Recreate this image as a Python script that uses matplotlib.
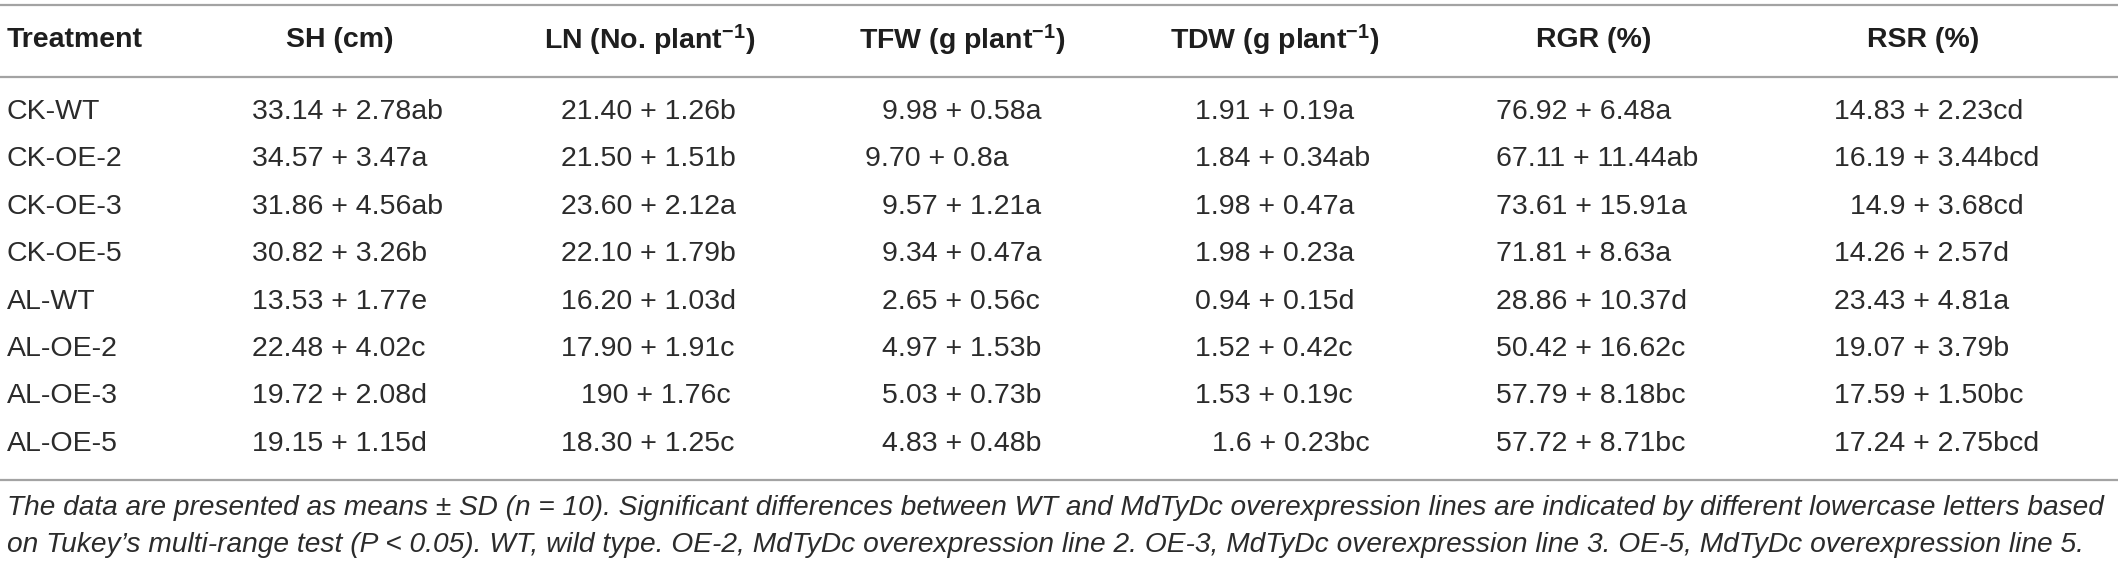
import matplotlib
matplotlib.use("Agg")
import matplotlib.pyplot as plt

plt.rcParams['font.family'] = ['Liberation Sans', 'DejaVu Sans']
plt.rcParams['mathtext.fontset'] = 'custom'
plt.rcParams['mathtext.rm'] = 'Liberation Sans'
plt.rcParams['mathtext.bf'] = 'Liberation Sans:bold'
plt.rcParams['mathtext.it'] = 'Liberation Sans:italic'

# ---- table content ----
treatments = ["CK-WT", "CK-OE-2", "CK-OE-3", "CK-OE-5",
              "AL-WT", "AL-OE-2", "AL-OE-3", "AL-OE-5"]

headers = ["Treatment", "SH (cm)", r"LN (No. plant$^{\mathbf{-1}}$)",
           r"TFW (g plant$^{\mathbf{-1}}$)", r"TDW (g plant$^{\mathbf{-1}}$)",
           "RGR (%)", "RSR (%)"]

sh_mean = ["33.14", "34.57", "31.86", "30.82", "13.53", "22.48", "19.72", "19.15"]
sh_sd = ["2.78", "3.47", "4.56", "3.26", "1.77", "4.02", "2.08", "1.15"]
sh_let = ["ab", "a", "ab", "b", "e", "c", "d", "d"]

ln_mean = ["21.40", "21.50", "23.60", "22.10", "16.20", "17.90", "190", "18.30"]
ln_sd = ["1.26", "1.51", "2.12", "1.79", "1.03", "1.91", "1.76", "1.25"]
ln_let = ["b", "b", "a", "b", "d", "c", "c", "c"]

tfw_mean = ["9.98", "9.70", "9.57", "9.34", "2.65", "4.97", "5.03", "4.83"]
tfw_sd = ["0.58", "0.8", "1.21", "0.47", "0.56", "1.53", "0.73", "0.48"]
tfw_let = ["a", "a", "a", "a", "c", "b", "b", "b"]

tdw_mean = ["1.91", "1.84", "1.98", "1.98", "0.94", "1.52", "1.53", "1.6"]
tdw_sd = ["0.19", "0.34", "0.47", "0.23", "0.15", "0.42", "0.19", "0.23"]
tdw_let = ["a", "ab", "a", "a", "d", "c", "c", "bc"]

rgr_mean = ["76.92", "67.11", "73.61", "71.81", "28.86", "50.42", "57.79", "57.72"]
rgr_sd = ["6.48", "11.44", "15.91", "8.63", "10.37", "16.62", "8.18", "8.71"]
rgr_let = ["a", "ab", "a", "a", "d", "c", "bc", "bc"]

rsr_mean = ["14.83", "16.19", "14.9", "14.26", "23.43", "19.07", "17.59", "17.24"]
rsr_sd = ["2.23", "3.44", "3.68", "2.57", "4.81", "3.79", "1.50", "2.75"]
rsr_let = ["cd", "bcd", "cd", "d", "a", "b", "bc", "bcd"]

caption1 = ("The data are presented as means \u00b1 SD (n = 10). Significant differences "
            "between WT and MdTyDc overexpression lines are indicated by different "
            "lowercase letters based")
caption2 = ("on Tukey\u2019s multi-range test (P < 0.05). WT, wild type. OE-2, MdTyDc "
            "overexpression line 2. OE-3, MdTyDc overexpression line 3. OE-5, MdTyDc "
            "overexpression line 5.")

columns = [
    (sh_mean, sh_sd, sh_let),
    (ln_mean, ln_sd, ln_let),
    (tfw_mean, tfw_sd, tfw_let),
    (tdw_mean, tdw_sd, tdw_let),
    (rgr_mean, rgr_sd, rgr_let),
    (rsr_mean, rsr_sd, rsr_let),
]

# ---- layout (pixels) ----
W, H = 2118, 565
col_left = [252, 561, 882, 1195, 1496, 1834]
head_center = [340, 650, 962, 1275, 1594, 1923]
# a few cells sit slightly off the column's left edge in the source
nudge = {(1, 6): 20, (2, 1): -17, (3, 7): 17, (5, 2): 16}
row_y0, row_dy = 112, 47.4
head_y = 40
lines_y = [5, 76.5, 480]
cap_y = [508, 545]
fs = 20.5
head_col = "#1e1e1e"
txt_col = "#2b2b2b"
line_col = "#a3a3a3"

fig = plt.figure(figsize=(W / 100, H / 100), dpi=100)
ax = fig.add_axes([0, 0, 1, 1])
ax.set_xlim(0, W)
ax.set_ylim(H, 0)
ax.axis("off")

for y in lines_y:
    ax.plot([0, W], [y, y], color=line_col, lw=1.6, solid_capstyle="butt")

ax.text(7, head_y, headers[0], fontsize=fs, fontweight="bold",
        ha="left", va="center", color=head_col)
for j, h in enumerate(headers[1:]):
    ax.text(head_center[j], head_y, h, fontsize=fs, fontweight="bold",
            ha="center", va="center", color=head_col)

for i, t in enumerate(treatments):
    y = row_y0 + i * row_dy
    ax.text(7, y, t, fontsize=fs, ha="left", va="center", color=txt_col)
    for j, (m, s, l) in enumerate(columns):
        x = col_left[j] + nudge.get((j, i), 0)
        ax.text(x, y, f"{m[i]} + {s[i]}{l[i]}",
                fontsize=fs, ha="left", va="center", color=txt_col)

# caption lines, fitted to their widths in the reference
renderer = fig.canvas.get_renderer()
for cap, y, target in [(caption1, cap_y[0], 2100), (caption2, cap_y[1], 2081)]:
    t = ax.text(7, y, cap, fontsize=fs, style="italic", ha="left", va="center",
                color=txt_col)
    w = t.get_window_extent(renderer).width
    t.set_fontsize(fs * target / w)

fig.savefig("out.png", dpi=100)
